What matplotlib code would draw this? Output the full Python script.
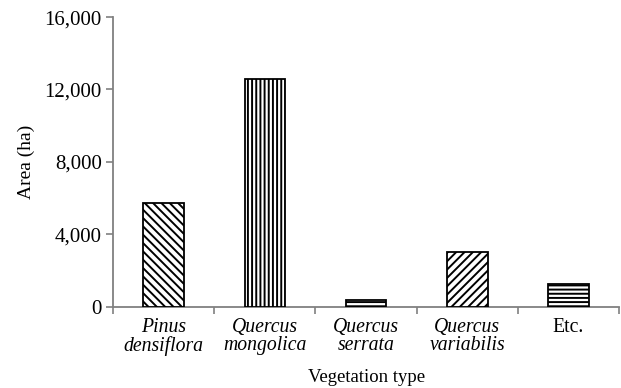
import matplotlib
matplotlib.use("Agg")
import matplotlib.pyplot as plt
import numpy as np

# vegetation types and their area (ha)
types = ["Pinus\ndensiflora", "Quercus\nmongolica", "Quercus\nserrata",
         "Quercus\nvariabilis", "Etc."]
italic = [True, True, True, True, False]
area = [5700, 12600, 370, 3000, 1250]
hatches = ["\\\\\\\\", "||||", "----", "////", "----"]
yticks = [0, 4000, 8000, 12000, 16000]

plt.rcParams["font.family"] = "Liberation Serif"
plt.rcParams["hatch.linewidth"] = 1.4

fig = plt.figure(figsize=(6.21, 3.88), dpi=100)
ax = fig.add_axes([0.182, 0.21, 0.815, 0.746])

x = np.arange(len(types))
bars = ax.bar(x, area, width=0.4, color="white", edgecolor="black",
              linewidth=1.3, zorder=3)
for b, h in zip(bars, hatches):
    b.set_hatch(h)

ax.set_xlim(-0.5, len(types) - 0.5)
ax.set_ylim(0, 16000)
ax.set_yticks(yticks)
ax.set_yticklabels([f"{v:,}" for v in yticks], fontsize=15)

ax.set_xticks(x)
ax.set_xticklabels(types, fontsize=14.2, linespacing=0.98)
for lab, it in zip(ax.get_xticklabels(), italic):
    if it:
        lab.set_fontstyle("italic")
ax.tick_params(axis="x", which="major", length=0, pad=8)
ax.set_xticks(np.arange(-0.5, len(types) - 0.4, 1.0), minor=True)
ax.tick_params(axis="x", which="minor", length=5, color="#808080", width=1.2)
ax.tick_params(axis="y", length=5, color="#808080", width=1.2, pad=3)

for s in ["top", "right"]:
    ax.spines[s].set_visible(False)
for s in ["left", "bottom"]:
    ax.spines[s].set_color("#808080")
    ax.spines[s].set_linewidth(1.3)

ax.set_ylabel("Area (ha)", fontsize=14)
ax.yaxis.set_label_coords(-0.155, 0.5)
ax.set_xlabel("Vegetation type", fontsize=13.5)
ax.xaxis.set_label_coords(0.5, -0.217)

fig.savefig("out.png", dpi=100)
